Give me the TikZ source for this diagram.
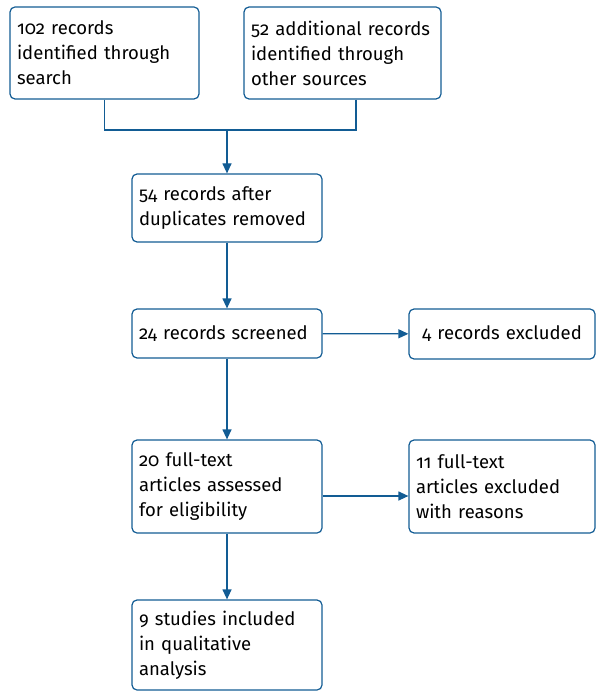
\documentclass[tikz,border=0pt]{standalone}
\usepackage{fontspec}
\setmainfont{Fira Sans}[Numbers=OldStyle]
\usepackage{tikz}
\usetikzlibrary{arrows.meta,positioning}
\definecolor{prismablue}{RGB}{18, 92, 148}
\tikzset{
 recbox/.style={
 rectangle,
 rounded corners=5pt,
 draw=prismablue,
 line width=1.2pt,
 align=left,
 inner xsep=7pt,
 font=\fontsize{18.5}{25}\selectfont
 },
 flowline/.style={line width=1.2pt, draw=prismablue},
 flowarrow/.style={-{Triangle[length=10pt, width=9pt]}, line width=1.2pt, draw=prismablue}
}

\begin{document}
\begin{tikzpicture}[x=1pt, y=-1pt]
 \useasboundingbox (0,0) rectangle (596,692);
 \node[recbox, text width=175pt, minimum height=92pt] (search) at (104.5,53) {102 records\\identified through\\search};
 \node[recbox, text width=183pt, minimum height=92pt] (other) at (342.5,53) {52 additional records\\identified through\\other sources};
 \node[recbox, text width=176pt, minimum height=68pt] (dedup) at (227,208) {54 records after\\duplicates removed};
 \node[recbox, text width=176pt, minimum height=49pt] (screened) at (227,333.5) {24 records screened};
 \node[recbox, text width=172pt, minimum height=50pt, align=center] (excluded) at (502,334) {4 records excluded};
 \node[recbox, text width=176pt, minimum height=93pt] (fulltext) at (227,486.5) {20 full-text\\articles assessed\\for eligibility};
 \node[recbox, text width=172pt, minimum height=93pt] (fullexcl) at (502,486.5) {11 full-text\\articles excluded\\with reasons};
 \node[recbox, text width=176pt, minimum height=90pt] (included) at (227,645) {9 studies included\\in qualitative\\analysis};
 \coordinate (merge) at (227,130);

 \draw[flowline] (search.south) |- (merge);
 \draw[flowline] ([xshift=13.5pt]other.south) |- (merge);
 \draw[flowarrow] (merge) -- (dedup);
 \draw[flowarrow] (dedup) -- (screened);
 \draw[flowarrow] (screened) -- (excluded);
 \draw[flowarrow] (screened) -- (fulltext);
 \draw[flowarrow] ([yshift=-9.5pt]fulltext.east) -- ([yshift=-9.5pt]fullexcl.west);
 \draw[flowarrow] (fulltext) -- (included);
\end{tikzpicture}
\end{document}
